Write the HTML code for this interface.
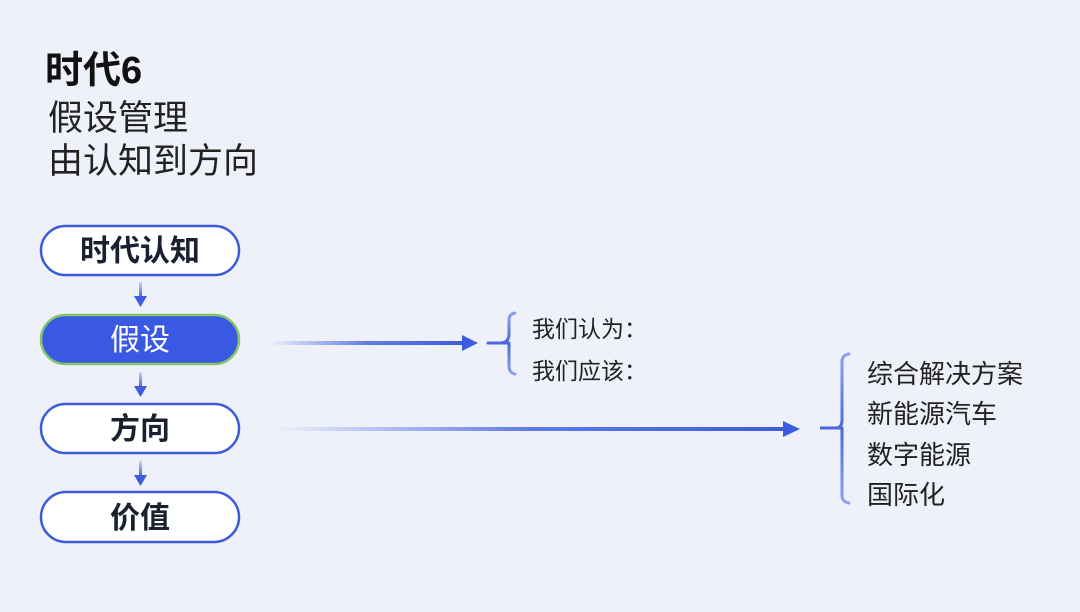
<!DOCTYPE html>
<html><head><meta charset="utf-8"><style>
body{margin:0;width:1080px;height:607px;overflow:hidden;background:#eef1fa;font-family:"Liberation Sans","Noto Sans CJK SC",sans-serif;}
</style></head><body>
<svg width="1080" height="607" viewBox="0 0 1080 607" xmlns="http://www.w3.org/2000/svg" font-family="Liberation Sans, Noto Sans CJK SC, sans-serif">
<defs>
<linearGradient id="g1" x1="0" x2="1"><stop offset="0" stop-color="#3d5ce0" stop-opacity="0"/><stop offset="0.5" stop-color="#3d5ce0" stop-opacity="0.8"/><stop offset="1" stop-color="#3d5ce0"/></linearGradient>
<linearGradient id="gv" x1="0" y1="0" x2="0" y2="1"><stop offset="0" stop-color="#3d5ce0" stop-opacity="0.2"/><stop offset="1" stop-color="#3d5ce0"/></linearGradient>
<linearGradient id="gb" x1="0" y1="0" x2="0" y2="1"><stop offset="0" stop-color="#8fa1ea"/><stop offset="0.5" stop-color="#4a66e0"/><stop offset="1" stop-color="#8fa1ea"/></linearGradient>
</defs>
<text x="45" y="83" font-size="38" font-weight="bold" fill="#111">时代6</text>
<text x="48" y="130" font-size="35" fill="#222">假设管理</text>
<text x="48" y="173" font-size="35" fill="#222">由认知到方向</text>

<rect x="41" y="226" width="198" height="49" rx="24.5" fill="#fff" stroke="#3b5bdb" stroke-width="2.5"/>
<text x="140" y="261" font-size="30" font-weight="bold" fill="#1a2030" text-anchor="middle">时代认知</text>
<rect x="41" y="315" width="198" height="49" rx="24.5" fill="#3a59e3" stroke="#86c56a" stroke-width="2.5"/>
<text x="140" y="350" font-size="30" fill="#fff" text-anchor="middle">假设</text>
<rect x="41" y="404" width="198" height="49" rx="24.5" fill="#fff" stroke="#3b5bdb" stroke-width="2.5"/>
<text x="140" y="439" font-size="30" font-weight="bold" fill="#1a2030" text-anchor="middle">方向</text>
<rect x="41" y="492" width="198" height="50" rx="25" fill="#fff" stroke="#3b5bdb" stroke-width="2.5"/>
<text x="140" y="528" font-size="30" font-weight="bold" fill="#1a2030" text-anchor="middle">价值</text>

<g>
<rect x="139" y="282" width="3" height="16" fill="url(#gv)"/><path d="M134 296 L147 296 L140.5 307 Z" fill="#3d5ce0"/>
<rect x="139" y="372" width="3" height="16" fill="url(#gv)"/><path d="M134 386 L147 386 L140.5 397 Z" fill="#3d5ce0"/>
<rect x="139" y="461" width="3" height="16" fill="url(#gv)"/><path d="M134 475 L147 475 L140.5 486 Z" fill="#3d5ce0"/>
</g>

<rect x="270" y="341" width="196" height="4" fill="url(#g1)"/>
<path d="M462 335 L478 343 L462 351 Z" fill="#3d5ce0"/>
<rect x="275" y="427" width="512" height="4" fill="url(#g1)"/>
<path d="M783 421 L800 429 L783 437 Z" fill="#3d5ce0"/>

<path d="M488 343 L500 343 Q509 343 509 334 L509 320 Q509 314 515 313 M509 343 L509 366 Q509 373 515 374" fill="none" stroke="url(#gb)" stroke-width="3" stroke-linecap="round"/>
<path d="M488 343 L509 343" stroke="#4a66e0" stroke-width="3"/>
<text x="532" y="337" font-size="23" fill="#222">我们认为：</text>
<text x="532" y="379" font-size="23" fill="#222">我们应该：</text>

<path d="M822 428 L836 428 Q842 428 842 420 L842 362 Q842 355 849 354 M842 428 L842 495 Q842 502 849 503" fill="none" stroke="url(#gb)" stroke-width="3" stroke-linecap="round"/>
<path d="M820 428 L842 428" stroke="#4a66e0" stroke-width="3"/>
<text x="867" y="383" font-size="26" fill="#222">综合解决方案</text>
<text x="867" y="423" font-size="26" fill="#222">新能源汽车</text>
<text x="867" y="464" font-size="26" fill="#222">数字能源</text>
<text x="867" y="504" font-size="26" fill="#222">国际化</text>
</svg>
</body></html>
